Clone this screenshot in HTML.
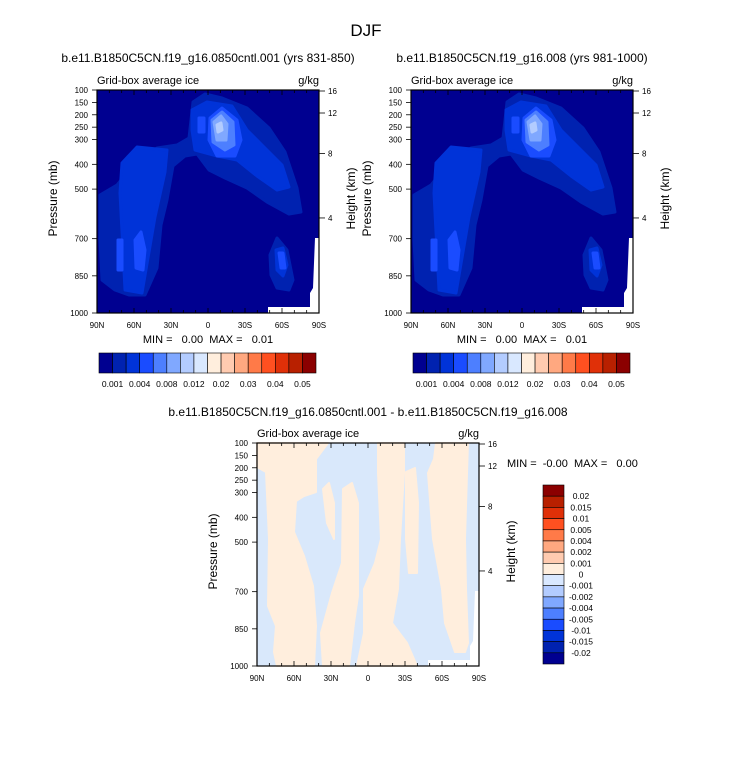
<!DOCTYPE html>
<html><head><meta charset="utf-8"><style>
html,body{margin:0;padding:0;background:#fff;}
svg text{font-family:"Liberation Sans",sans-serif;fill:#000;white-space:pre;}
</style></head><body>
<svg id="root" width="733" height="760" viewBox="0 0 733 760" xmlns="http://www.w3.org/2000/svg">
<text x="366" y="36" font-size="17" text-anchor="middle">DJF</text>
</svg>
<script>
const latLabels=["90N","60N","30N","0","30S","60S","90S"];
const presLabels=[100,150,200,250,300,400,500,700,850,1000];
const heightLabels=[16,12,8,4];
const colors=["#000090","#0022b0","#0033d8","#1a4cff","#4d7fff","#80a8ff","#b3ccff","#d9e8ff","#ffeedd","#ffcbb0","#ffa880","#ff7a48","#ff5020","#e03008","#b82000","#8b0000"];
const topLevels=["0.001","0.002","0.004","0.006","0.008","0.01","0.012","0.015","0.02","0.025","0.03","0.035","0.04","0.045","0.05"];
const diffLevels=["-0.02","-0.015","-0.01","-0.005","-0.004","-0.002","-0.001","0","0.001","0.002","0.004","0.005","0.01","0.015","0.02"];
const NS="http://www.w3.org/2000/svg";
const root=document.getElementById('root');
function mk(tag,attrs,parent){const e=document.createElementNS(NS,tag);for(const k in attrs)e.setAttribute(k,attrs[k]);(parent||root).appendChild(e);return e;}
function txt(s,attrs,parent){const e=mk('text',attrs,parent);e.textContent=s;return e;}
const W=222,H=223;
function yP(p){return H*(p-100)/900;}
function yH(h){const p=1013.25*Math.pow(1-2.25577e-5*h*1000,5.25588);return Math.max(yP(p),1);}
function xL(i){return i*W/6;}
function pts(a){return a.map(p=>p.join(',')).join(' ');}

const blobsL1=[[[3,105],[20,95],[40,70],[60,58],[80,55],[92,48],[96,12],[108,4],[125,8],[150,18],[172,38],[188,62],[200,98],[204,122],[192,124],[170,112],[150,98],[128,88],[112,80],[100,64],[88,66],[76,76],[70,110],[64,135],[60,178],[48,205],[32,205],[18,200],[5,190],[3,150]],
 [[173,165],[180,148],[190,160],[196,190],[192,200],[180,198],[174,185]]];
const blobsL2=[[[25,73],[40,57],[70,60],[68,82],[58,127],[45,203],[28,200],[23,103]],
 [[95,20],[110,12],[135,16],[150,40],[165,55],[185,75],[192,97],[180,100],[160,86],[140,70],[120,66],[98,60],[95,40]],
 [[179,160],[186,158],[190,175],[186,186],[180,180]]];
const blobsL3=[[[38,150],[44,142],[48,160],[46,180],[39,178]],[[21,150],[25,150],[25,180],[21,180]],
 [[113,28],[125,18],[140,30],[144,50],[138,66],[120,66],[112,50]],[[102,28],[107,28],[107,42],[102,42]],[[182,163],[186,163],[188,178],[184,178]]];
const blobsL4=[[[115,30],[125,22],[136,32],[137,55],[128,60],[116,52]]];
const blobsL5=[[[117,32],[124,26],[130,34],[129,50],[120,50]]];
const blobsL6=[[[120,35],[124,33],[125,40],[121,42]]];
const white=[[218,148],[222,148],[222,223],[171,223],[171,217],[213,217],[213,203],[216,198]];
const peachBlobs=[
 [[0,0],[71,0],[59,16],[59,49],[47,53],[39,58],[37,89],[47,113],[56,143],[59,183],[57,223],[20,223],[17,209],[19,183],[11,163],[12,96],[9,29],[0,24]],
 [[66,46],[72,40],[77,60],[77,96],[70,80]],
 [[86,46],[95,40],[101,60],[101,153],[97,180],[92,223],[66,223],[64,190],[75,150],[85,120]],
 [[121,0],[147,0],[147,30],[143,96],[141,146],[135,180],[150,200],[160,223],[100,223],[107,190],[107,146],[118,120],[124,96],[121,30]],
 [[149,29],[158,25],[161,60],[160,130],[152,130],[149,96]],
 [[179,0],[211,0],[210,30],[208,96],[209,146],[211,200],[208,209],[198,209],[188,180],[185,146],[176,96],[171,30],[177,16]]
];

function panel(x0,y0,name,title,diff){
  const g=mk('g',{transform:`translate(${x0},${y0})`,});
  if(!diff){
    mk('rect',{x:0,y:0,width:W,height:H,fill:colors[0],},g);
    [[blobsL1,1],[blobsL2,2],[blobsL3,3],[blobsL4,4],[blobsL5,5],[blobsL6,6]].forEach(([bs,c])=>bs.forEach(b=>{
      const p=mk('polygon',{points:pts(b),fill:colors[c],stroke:colors[c],'stroke-linejoin':'round','stroke-width':3},g);
      
      
    }));
  } else {
    mk('rect',{x:0,y:0,width:W,height:H,fill:'#d9e8fb',},g);
    peachBlobs.forEach(b=>{const p=mk('polygon',{points:pts(b),fill:'#ffeedd',stroke:'#ffeedd','stroke-width':2,'stroke-linejoin':'round'},g);
      
      });
  }
  const w=mk('polygon',{points:pts(white),fill:'#fff'},g);
  
  
  mk('rect',{x:0,y:0,width:W,height:H,fill:'none',stroke:'#000','stroke-width':1.2,},g);
  for(let d=0;d<=18;d++){const x=W*d/18;const len=d%3==0?5:3;
    mk('line',{x1:x,y1:H,x2:x,y2:H-len,stroke:'#000','stroke-width':0.8},g);
    mk('line',{x1:x,y1:0,x2:x,y2:len,stroke:'#000','stroke-width':0.8},g);}
  latLabels.forEach((s,i)=>{const t=txt(s,{x:xL(i),y:H+15,'font-size':8,'text-anchor':'middle'},g);});
  presLabels.forEach(p=>{const y=yP(p);mk('line',{x1:-5,y1:y,x2:0,y2:y,stroke:'#000','stroke-width':0.8},g);
    const t=txt(String(p),{x:-9,y:y+3,'font-size':8,'text-anchor':'end'},g);});
  heightLabels.forEach(h=>{const y=yH(h);mk('line',{x1:W,y1:y,x2:W+6,y2:y,stroke:'#000','stroke-width':0.8},g);
    const t=txt(String(h),{x:W+9,y:y+3,'font-size':8},g);});
  txt('Grid-box average ice',{x:0,y:-6,'font-size':11,},g);
  txt('g/kg',{x:W,y:-6,'font-size':11,'text-anchor':'end',},g);
  txt('Pressure (mb)',{x:0,y:0,'font-size':12,'text-anchor':'middle',transform:`translate(-40,${H/2-3}) rotate(-90)`,},g);
  txt('Height (km)',{x:0,y:0,'font-size':12,'text-anchor':'middle',transform:`translate(${W+36},${H/2-3}) rotate(-90)`,},g);
  txt(title,{x:W/2,y:diff?-27:-28,'font-size':12,'text-anchor':'middle',},g);
  return g;
}
function hbar(x0,y0,w,h){
  const g=mk('g',{transform:`translate(${x0},${y0})`,});
  const bw=w/colors.length;
  colors.forEach((c,i)=>{const r=mk('rect',{x:i*bw,y:0,width:bw,height:h,fill:c,stroke:'#000','stroke-width':0.6},g);});
  topLevels.forEach((s,i)=>{if(i%2==0){const t=txt(s,{x:(i+1)*bw,y:h+14,'font-size':8.5,'text-anchor':'middle'},g);}});
}
panel(97,90,'left-panel','b.e11.B1850C5CN.f19_g16.0850cntl.001 (yrs 831-850)',false);
panel(411,90,'right-panel','b.e11.B1850C5CN.f19_g16.008 (yrs 981-1000)',false);
txt('MIN =   0.00  MAX =   0.01',{x:208,y:343,'font-size':11,'text-anchor':'middle',});
txt('MIN =   0.00  MAX =   0.01',{x:522,y:343,'font-size':11,'text-anchor':'middle',});
hbar(99,353,217,20);
hbar(413,353,217,20);
panel(257,443,'difference-panel','b.e11.B1850C5CN.f19_g16.0850cntl.001 - b.e11.B1850C5CN.f19_g16.008',true);
txt('MIN =  -0.00  MAX =   0.00',{x:507,y:467,'font-size':11,});
(function(){
  const g=mk('g',{transform:'translate(543,485)',});
  const bh=179/colors.length;
  colors.slice().reverse().forEach((c,i)=>{const r=mk('rect',{x:0,y:i*bh,width:21,height:bh,fill:c,stroke:'#000','stroke-width':0.6},g);});
  diffLevels.slice().reverse().forEach((s,i)=>{const t=txt(s,{x:38,y:(i+1)*bh+3,'font-size':8.5,'text-anchor':'middle'},g);});
})();
</script>
</body></html>
